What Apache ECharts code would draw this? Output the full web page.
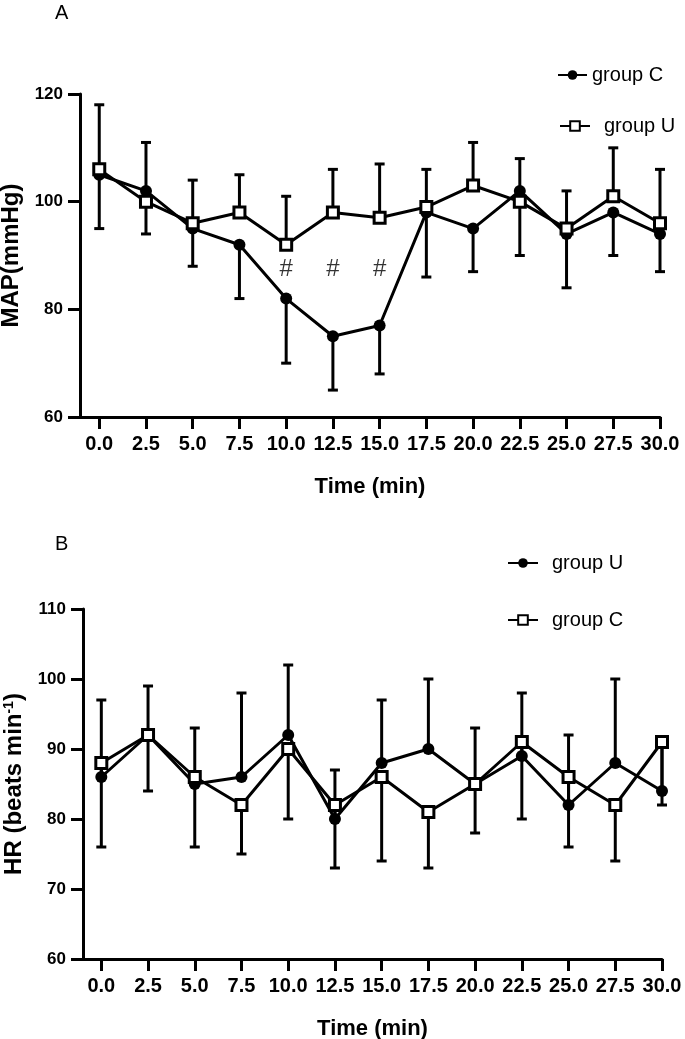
<!DOCTYPE html>
<html>
<head>
<meta charset="utf-8">
<script src="https://cdn.jsdelivr.net/npm/echarts@6/dist/echarts.min.js"></script>
<style>
  html, body { margin: 0; padding: 0; background: #fff; }
  #main { width: 685px; height: 1039px; }
</style>
</head>
<body>
<div id="main"></div>
<script>
// time points (min) and tick labels, shared by both panels
const times = [0, 2.5, 5, 7.5, 10, 12.5, 15, 17.5, 20, 22.5, 25, 27.5, 30]
const tickLabels = ['0.0', '2.5', '5.0', '7.5', '10.0', '12.5', '15.0', '17.5', '20.0', '22.5', '25.0', '27.5', '30.0']

// panel A: MAP (mmHg), mean and SD
const mapC = [105, 102, 95, 92, 82, 75, 77, 98, 95, 102, 94, 98, 94]
const mapCsd = [10, 8, 7, 10, 12, 10, 9, 12, 8, 12, 10, 8, 7]
const mapU = [106, 100, 96, 98, 92, 98, 97, 99, 103, 100, 95, 101, 96]
const mapUsd = [12, 11, 8, 7, 9, 8, 10, 7, 8, 8, 7, 9, 10]
const mapTicks = [60, 80, 100, 120]

// "#" significance marks in panel A
const hashTimes = [10, 12.5, 15]
const hashLevel = [87.4, 87.4, 87.4]

// panel B: HR (beats/min), mean and SD
const hrU = [86, 92, 85, 86, 92, 80, 88, 90, 85, 89, 82, 88, 84]
const hrUsd = [11, 7, 8, 12, 10, 7, 9, 10, 8, 9, 10, 12, 7]
const hrC = [88, 92, 86, 82, 90, 82, 86, 81, 85, 91, 86, 82, 91]
const hrCsd = [12, 8, 10, 7, 10, 9, 12, 8, 7, 11, 10, 8, 9]
const hrTicks = [60, 70, 80, 90, 100, 110]

const BLACK = '#000'
const LW = 3
const FONT = 'Liberation Sans'

const chart = echarts.init(document.getElementById('main'))

// one-sided error bar (dir = 1 up, -1 down) drawn through the axis scale
function errorBars(name, axisIdx, values, sds, dir) {
  return {
    type: 'custom',
    name: name,
    xAxisIndex: axisIdx,
    yAxisIndex: axisIdx,
    z: 1,
    silent: true,
    encode: { x: 0, y: 1 },
    data: times.map((t, i) => [t, values[i], sds[i]]),
    renderItem: (params, api) => {
      const x = api.value(0)
      const y = api.value(1)
      const sd = api.value(2)
      const p0 = api.coord([x, y])
      const p1 = api.coord([x, y + dir * sd])
      const st = { stroke: BLACK, lineWidth: LW }
      return {
        type: 'group',
        children: [
          { type: 'line', shape: { x1: p0[0], y1: p0[1], x2: p1[0], y2: p1[1] }, style: st },
          { type: 'line', shape: { x1: p1[0] - 5, y1: p1[1], x2: p1[0] + 5, y2: p1[1] }, style: st },
        ],
      }
    },
  }
}

function circleLine(name, axisIdx, values) {
  return {
    type: 'line',
    name: name,
    xAxisIndex: axisIdx,
    yAxisIndex: axisIdx,
    z: 2,
    data: times.map((t, i) => [t, values[i]]),
    symbol: 'circle',
    symbolSize: 12,
    itemStyle: { color: BLACK },
    lineStyle: { color: BLACK, width: LW },
  }
}

function squareLine(name, axisIdx, values) {
  return {
    type: 'line',
    name: name,
    xAxisIndex: axisIdx,
    yAxisIndex: axisIdx,
    z: 3,
    data: times.map((t, i) => [t, values[i]]),
    symbol: 'rect',
    symbolSize: 11,
    itemStyle: { color: '#fff', borderColor: BLACK, borderWidth: LW },
    lineStyle: { color: BLACK, width: LW },
  }
}

function xAxisCfg(idx, min) {
  return {
    type: 'value',
    gridIndex: idx,
    min: min,
    max: 30,
    name: 'Time (min)',
    nameLocation: 'middle',
    nameGap: 59,
    nameTextStyle: { color: BLACK, fontWeight: 'bold', fontSize: 22, fontFamily: FONT },
    axisLine: { onZero: false, lineStyle: { color: BLACK, width: LW } },
    axisTick: { customValues: times, length: 12, lineStyle: { color: BLACK, width: LW } },
    axisLabel: {
      customValues: times,
      formatter: (v) => tickLabels[times.indexOf(v)],
      color: BLACK,
      fontWeight: 'bold',
      fontSize: 20,
      fontFamily: FONT,
      margin: 17,
    },
    splitLine: { show: false },
  }
}

function yAxisCfg(idx, ticks, name, gap) {
  return {
    type: 'value',
    gridIndex: idx,
    min: ticks[0],
    max: ticks[ticks.length - 1],
    interval: ticks[1] - ticks[0],
    name: name,
    nameLocation: 'middle',
    nameGap: gap,
    nameTextStyle: {
      color: BLACK, fontWeight: 'bold', fontSize: 24, fontFamily: FONT,
      rich: { sup: { fontSize: 14, fontWeight: 'bold', fontFamily: FONT, color: BLACK, verticalAlign: 'top', padding: [0, 0, 12, 0] } },
    },
    axisLine: { show: true, onZero: false, lineStyle: { color: BLACK, width: LW } },
    axisTick: { show: true, length: 12, lineStyle: { color: BLACK, width: LW } },
    axisLabel: { color: BLACK, fontWeight: 'bold', fontSize: 17, fontFamily: FONT, margin: 17 },
    splitLine: { show: false },
  }
}

const legendText = { color: BLACK, fontSize: 20, fontFamily: FONT }
const legendTextWide = Object.assign({ padding: [0, 0, 0, 9] }, legendText)
const stripPanel = (n) => n.replace(/ \(.*\)$/, '')

chart.setOption({
  animation: false,
  backgroundColor: '#fff',
  title: [
    { text: 'A', left: 55, top: 3, padding: 0, textStyle: { color: BLACK, fontWeight: 'normal', fontSize: 20, fontFamily: FONT } },
    { text: 'B', left: 55, top: 534, padding: 0, textStyle: { color: BLACK, fontWeight: 'normal', fontSize: 20, fontFamily: FONT } },
  ],
  legend: [
    { data: ['group C (MAP)'], left: 557, top: 65, padding: 0, itemWidth: 29, itemHeight: 12, formatter: stripPanel, textStyle: legendText, selectedMode: false },
    { data: ['group U (MAP)'], left: 559, top: 116, padding: 0, itemWidth: 30, itemHeight: 12, formatter: stripPanel, textStyle: legendTextWide, selectedMode: false },
    { data: ['group U (HR)', 'group C (HR)'], orient: 'vertical', left: 507, top: 553, padding: 0, itemGap: 37, itemWidth: 30, itemHeight: 12, formatter: stripPanel, textStyle: legendTextWide, selectedMode: false },
  ],
  grid: [
    { left: 80, right: 25, top: 94, height: 323, outerBoundsMode: 'none' },
    { left: 83, right: 23, top: 609, height: 350, outerBoundsMode: 'none' },
  ],
  xAxis: [xAxisCfg(0, -1.03), xAxisCfg(1, -0.98)],
  yAxis: [yAxisCfg(0, mapTicks, 'MAP(mmHg)', 48), yAxisCfg(1, hrTicks, 'HR (beats min{sup|-1})', 50)],
  series: [
    errorBars('errC (MAP)', 0, mapC, mapCsd, -1),
    errorBars('errU (MAP)', 0, mapU, mapUsd, 1),
    circleLine('group C (MAP)', 0, mapC),
    squareLine('group U (MAP)', 0, mapU),
    {
      type: 'scatter',
      name: 'hash',
      xAxisIndex: 0,
      yAxisIndex: 0,
      symbolSize: 0,
      silent: true,
      data: hashTimes.map((t, i) => [t, hashLevel[i]]),
      label: { show: true, position: 'inside', formatter: '#', color: BLACK, fontSize: 24, fontFamily: FONT },
    },
    errorBars('errU (HR)', 1, hrU, hrUsd, 1),
    errorBars('errC (HR)', 1, hrC, hrCsd, -1),
    circleLine('group U (HR)', 1, hrU),
    squareLine('group C (HR)', 1, hrC),
  ],
})
</script>
</body>
</html>
